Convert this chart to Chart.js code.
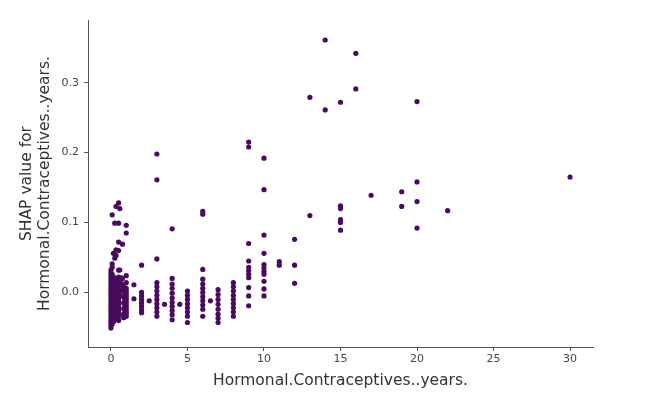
<!DOCTYPE html>
<html>
<head>
<meta charset="utf-8">
<script src="https://cdn.jsdelivr.net/npm/chart.js@4"></script>
<style>
  html, body { margin: 0; padding: 0; background: #ffffff; }
  #wrap { width: 669px; height: 405px; }
</style>
</head>
<body>
<div id="wrap"><canvas id="c" width="669" height="405"></canvas></div>
<script>
// Hormonal.Contraceptives..years. (feature value) paired with its SHAP value
const hcYears = [
  0,0,0,0,0,0,0,0,0,0,0,0,0,0,0,0,0,0,0,0,0,0,
  0.08,0.08,0.08,0.08,0.08,0.08,0.08,0.08,0.08,0.08,0.08,0.08,
  0.08,0.08,0.08,0.08,0.08,0.08,0.08,0.08,0.08,
  0.16,0.16,0.16,0.16,0.16,0.16,0.16,0.16,0.16,0.16,
  0.25,0.25,0.25,0.25,0.25,0.25,0.25,0.25,0.25,0.25,
  0.25,0.25,0.25,0.25,0.25,0.25,0.25,
  0.33,0.33,0.33,0.33,0.33,0.33,0.33,0.33,0.33,0.33,0.33,
  0.42,0.42,0.42,0.42,0.42,0.42,0.42,
  0.42,0.42,0.42,0.42,0.42,
  0.5,0.5,0.5,0.5,0.5,0.5,0.5,0.5,0.5,0.5,0.5,0.5,0.5,0.5,
  0.5,0.5,0.5,0.5,0.5,0.5,0.5,
  0.58,0.58,0.58,0.58,0.58,0.58,
  0.67,0.67,0.67,
  0.75,0.75,0.75,
  0.83,0.83,0.83,0.83,0.83,0.83,0.83,
  0.92,0.92,0.92,0.92,0.92,0.92,
  1,1,1,1,1,1,1,1,1,
  1,1,1,1,1,1,
  1.5,1.5,
  2,2,2,2,2,2,2,2,
  2.5,
  3,3,3,3,3,3,3,3,3,3,3,3,
  3.5,
  4,4,4,4,4,4,4,4,4,4,4,
  4.5,
  5,5,5,5,5,5,5,5,
  6,6,6,6,6,6,6,6,6,6,6,6,
  6.5,
  7,7,7,7,7,7,7,7,
  8,8,8,8,8,8,8,8,8,
  9,9,9,9,9,9,9,9,9,9,9,
  10,10,10,10,10,10,10,10,10,10,10,
  11,11,
  12,12,12,
  13,13,
  14,14,
  15,15,15,15,15,15,
  16,16,
  17,
  19,19,
  20,20,20,20,
  22,
  30
];
const shapValues = [
  0.032,0.028,0.024,0.020,0.016,0.012,0.008,0.004,0.000,-0.004,-0.008,-0.012,-0.016,-0.020,-0.024,-0.028,-0.032,-0.036,-0.040,-0.044,-0.048,-0.051,
  0.111,0.041,0.036,0.018,0.010,0.002,-0.006,-0.014,-0.022,-0.030,-0.038,-0.045,
  0.026,0.014,0.006,-0.002,-0.010,-0.018,-0.026,-0.034,-0.041,
  0.056,0.020,0.012,0.004,-0.004,-0.012,-0.020,-0.028,-0.035,-0.042,
  0.099,0.049,0.021,0.013,0.005,-0.003,-0.011,-0.019,-0.027,-0.034,
  0.017,0.009,0.001,-0.007,-0.015,-0.023,-0.031,
  0.123,0.053,0.061,0.018,0.009,0.001,-0.007,-0.015,-0.023,-0.031,-0.038,
  0.020,0.010,0.000,-0.010,-0.020,-0.030,-0.036,
  0.015,0.005,-0.005,-0.015,-0.025,
  0.128,0.099,0.072,0.060,0.032,0.022,0.014,0.006,-0.002,-0.010,-0.018,-0.026,-0.034,-0.040,
  0.018,0.010,0.002,-0.006,-0.014,-0.022,-0.030,
  0.120,0.032,0.020,0.012,0.004,-0.004,
  0.021,0.013,0.006,
  0.069,0.020,0.010,
  0.009,0.001,-0.007,-0.015,-0.023,-0.031,-0.036,
  0.005,-0.003,-0.011,-0.019,-0.027,-0.034,
  0.096,0.085,0.024,0.006,-0.002,-0.010,-0.018,-0.026,-0.034,
  0.014,0.002,-0.006,-0.014,-0.022,-0.030,
  0.011,-0.009,
  0.039,0.000,-0.005,-0.010,-0.015,-0.020,-0.025,-0.029,
  -0.012,
  0.198,0.161,0.048,0.014,0.008,0.002,-0.004,-0.010,-0.016,-0.022,-0.028,-0.034,
  -0.017,
  0.091,0.020,0.012,0.006,-0.001,-0.008,-0.014,-0.020,-0.026,-0.032,-0.039,
  -0.017,
  0.002,-0.004,-0.010,-0.016,-0.022,-0.028,-0.034,-0.043,
  0.116,0.112,0.033,0.019,0.012,0.006,0.000,-0.006,-0.012,-0.018,-0.024,-0.034,
  -0.012,
  0.004,-0.003,-0.010,-0.017,-0.024,-0.031,-0.037,-0.043,
  0.014,0.008,0.002,-0.004,-0.010,-0.016,-0.022,-0.028,-0.034,
  0.215,0.208,0.070,0.045,0.036,0.031,0.026,0.021,0.007,-0.005,-0.019,
  0.192,0.147,0.082,0.056,0.040,0.035,0.030,0.026,0.016,0.005,-0.005,
  0.044,0.039,
  0.076,0.039,0.013,
  0.279,0.110,
  0.361,0.261,
  0.272,0.124,0.120,0.104,0.100,0.089,
  0.342,0.291,
  0.139,
  0.144,0.123,
  0.273,0.158,0.130,0.092,
  0.117,
  0.165
];
const xTicks = [0, 5, 10, 15, 20, 25, 30];
const yTicks = [0.0, 0.1, 0.2, 0.3];
const xTitle = 'Hormonal.Contraceptives..years.';
const yTitle = ['SHAP value for', 'Hormonal.Contraceptives..years.'];

const points = hcYears.map((x, i) => ({ x: x, y: shapValues[i] }));

new Chart(document.getElementById('c'), {
  type: 'scatter',
  data: {
    datasets: [{
      data: points,
      backgroundColor: '#480b5e',
      borderWidth: 0,
      pointRadius: 2.6,
      pointHoverRadius: 2.6
    }]
  },
  options: {
    responsive: false,
    animation: false,
    devicePixelRatio: 1,
    layout: { padding: { left: 0, right: 76, top: 20, bottom: 0 } },
    plugins: { legend: { display: false }, tooltip: { enabled: false } },
    scales: {
      x: {
        type: 'linear',
        min: -1.5,
        max: 31.5,
        afterBuildTicks: (s) => { s.ticks = xTicks.map(v => ({ value: v })); },
        afterFit: (s) => { s.height = 58; },
        grid: { drawOnChartArea: false, drawTicks: true, tickLength: 4, color: '#555' },
        border: { display: true, color: '#555', width: 1 },
        ticks: {
          color: '#444',
          font: { family: 'DejaVu Sans', size: 11 },
          padding: 2,
          maxRotation: 0,
          callback: (v) => String(v)
        },
        title: {
          display: true,
          text: xTitle,
          color: '#333',
          font: { family: 'DejaVu Sans', size: 15.5, lineHeight: 1.17 },
          padding: { top: 2, bottom: 15 }
        }
      },
      y: {
        type: 'linear',
        min: -0.078,
        max: 0.3896,
        afterBuildTicks: (s) => { s.ticks = yTicks.map(v => ({ value: v })); },
        afterFit: (s) => { s.width = 88; },
        grid: { drawOnChartArea: false, drawTicks: true, tickLength: 4, color: '#555' },
        border: { display: true, color: '#555', width: 1 },
        ticks: {
          color: '#444',
          font: { family: 'DejaVu Sans', size: 11 },
          padding: 5,
          callback: (v) => Number(v).toFixed(1)
        },
        title: {
          display: true,
          text: yTitle,
          color: '#333',
          font: { family: 'DejaVu Sans', size: 15.5, lineHeight: 1.17 },
          padding: { top: 18, bottom: 0 }
        }
      }
    }
  }
});
</script>
</body>
</html>
